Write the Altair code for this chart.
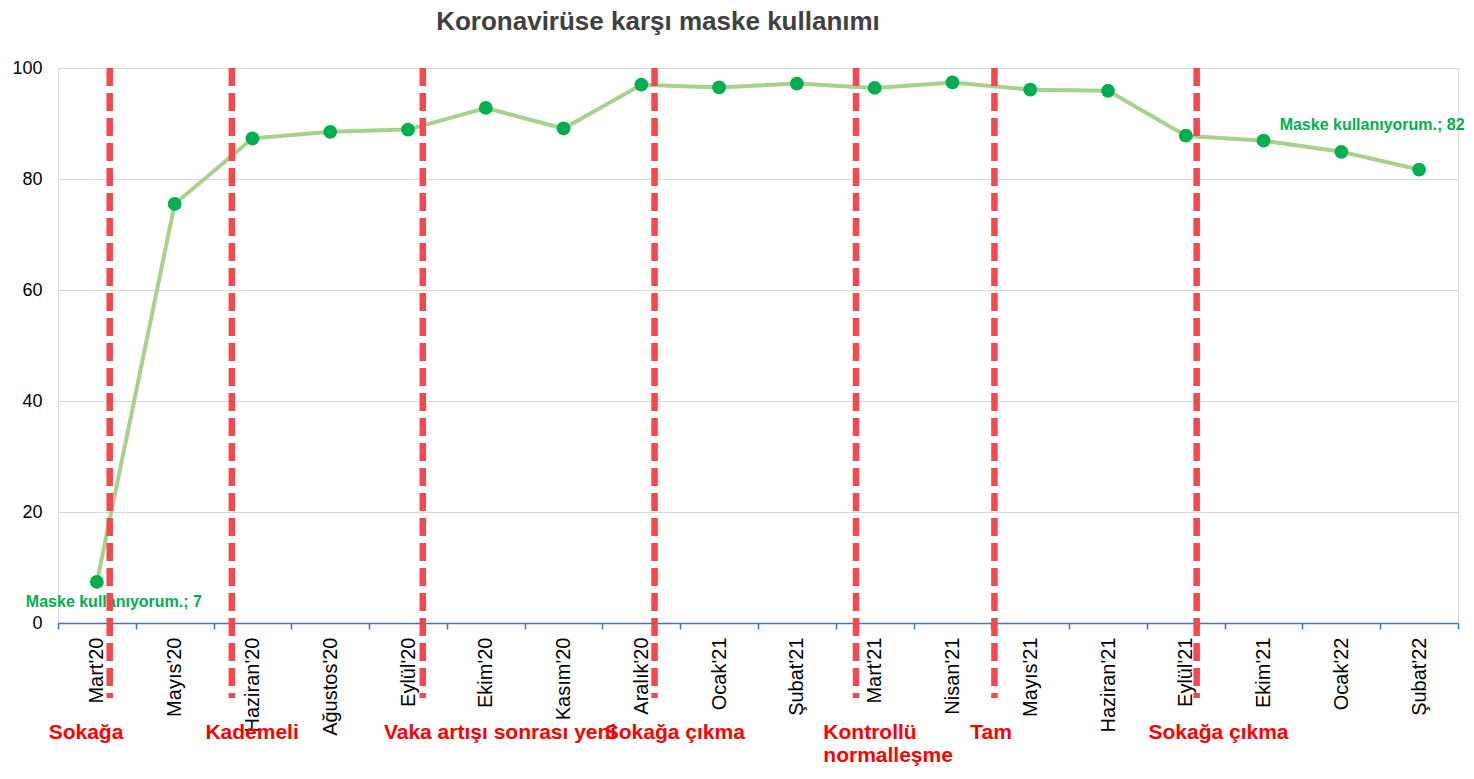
import altair as alt
import pandas as pd

months = ["Mart'20", "Mayıs'20", "Haziran'20", "Ağustos'20", "Eylül'20", "Ekim'20",
          "Kasım'20", "Aralık'20", "Ocak'21", "Şubat'21", "Mart'21", "Nisan'21",
          "Mayıs'21", "Haziran'21", "Eylül'21", "Ekim'21", "Ocak'22", "Şubat'22"]
values = [7.4, 75.5, 87.3, 88.5, 88.9, 92.8, 89.1, 97.0, 96.5, 97.2, 96.4, 97.4,
          96.1, 95.9, 87.8, 86.9, 84.9, 81.7]

# event markers, position in category units (0 = left edge of first category)
event_pos = [0.665, 2.235, 4.69, 7.67, 10.26, 12.04, 14.64]
event_label_pos = [-0.12, 1.895, 4.19, 7.03, 9.84, 11.73, 14.02]
event_labels = ["Sokağa", "Kademeli", "Vaka artışı sonrası yeni", "Sokağa çıkma",
                "Kontrollü\nnormalleşme", "Tam", "Sokağa çıkma"]
event_top = 100
event_bottom = -13.5
event_text_y = -19.9

df = pd.DataFrame({"month": months, "value": values})
df["label"] = ["Maske kullanıyorum.; " + str(int(round(v))) for v in values]
ev = pd.DataFrame({"pos": event_pos, "top": event_top, "bottom": event_bottom})
evt = pd.DataFrame({"pos": event_label_pos, "text": event_labels, "y": event_text_y})

W, H = 1400, 555

xband = alt.X("month:N", sort=months, bandPosition=0.5,
              scale=alt.Scale(type="band", paddingInner=0, paddingOuter=0),
              axis=alt.Axis(title=None, labelAngle=270, tickBand="extent",
                            domainColor="#4472c4", domainWidth=1.5,
                            tickColor="#4472c4", tickWidth=1.5, tickSize=6,
                            labelPadding=8, labelFontSize=20, labelColor="#000000",
                            labelFont="Liberation Sans", grid=False))
yenc = alt.Y("value:Q", scale=alt.Scale(domain=[0, 100], nice=False),
             axis=alt.Axis(title=None, values=[0, 20, 40, 60, 80, 100],
                           grid=True, gridColor="#d9d9d9", gridWidth=1.2,
                           domain=False, ticks=False, labelPadding=16,
                           labelFontSize=18, labelColor="#000000",
                           labelFont="Liberation Sans"))

base = alt.Chart(df)
line = base.mark_line(color="#a9d18e", strokeWidth=4).encode(x=xband, y=yenc)
pts = base.mark_circle(color="#00b050", size=190, opacity=1).encode(x=xband, y=yenc)

lab_first = base.transform_filter(alt.datum.month == months[0]).mark_text(
    color="#00b050", font="Liberation Sans", fontWeight="bold", fontSize=16,
    dx=17, dy=20, align="center", baseline="middle").encode(
    x=xband, y=yenc, text="label:N")
lab_last = base.transform_filter(alt.datum.month == months[-1]).mark_text(
    color="#00b050", font="Liberation Sans", fontWeight="bold", fontSize=16,
    dx=-47, dy=-45, align="center", baseline="middle").encode(
    x=xband, y=yenc, text="label:N")

series = alt.layer(line, pts, lab_first, lab_last)

xq = alt.Scale(domain=[0, len(months)], nice=False, zero=False)
rules = alt.Chart(ev).mark_rule(color="#f5484e", strokeWidth=6.5,
                                strokeDash=[18, 7]).encode(
    x=alt.X("pos:Q", scale=xq, axis=None),
    y=alt.Y("top:Q"), y2="bottom:Q")
texts = alt.Chart(evt).mark_text(color="#ff0000", font="Liberation Sans",
                                 fontWeight="bold", fontSize=21, align="left",
                                 baseline="middle", lineBreak="\n", lineHeight=23).encode(
    x=alt.X("pos:Q", scale=xq, axis=None),
    y=alt.Y("y:Q"), text="text:N")

events = alt.layer(rules, texts)

chart = alt.layer(series, events).resolve_scale(
    x="independent"
).properties(
    width=W, height=H,
    title=alt.TitleParams("Koronavirüse karşı maske kullanımı", fontSize=26,
                          font="Liberation Sans", fontWeight="bold", color="#404040",
                          anchor="middle", dx=-100, offset=24, frame="group"),
    autosize=alt.AutoSizeParams(type="none"),
    padding={"left": 50, "top": 60, "right": 8, "bottom": 146},
).configure_view(stroke=None).configure(background="#ffffff")

chart.save("out.html", embed_options={"renderer": "svg", "actions": False})
